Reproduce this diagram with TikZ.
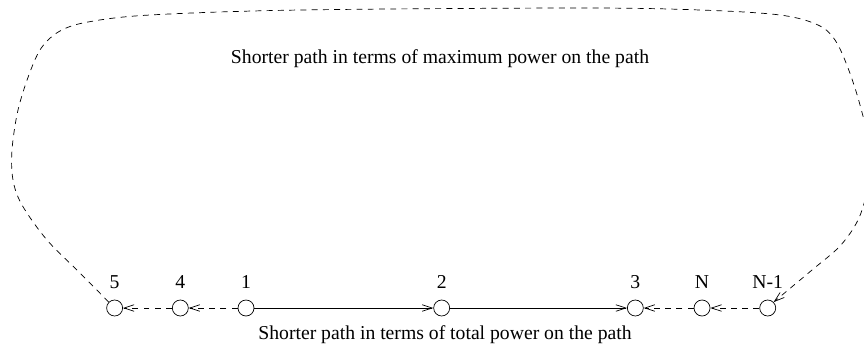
\documentclass[tikz,border=0pt]{standalone}
\usepackage{fontspec}
\setmainfont{Liberation Serif}
\usetikzlibrary{arrows.meta,positioning}

\begin{document}
\begin{tikzpicture}[
  x=0.02cm,y=-0.02cm,
  font=\fontsize{11.2}{13}\selectfont,
  >={Straight Barb[length=2mm,width=1.3mm]},
  node distance=9.8mm,
  station/.style={circle,draw,minimum size=3.2mm,inner sep=0pt},
  hop/.style={->,dash pattern=on 3.4pt off 3pt},
  direct/.style={->}
]
  \useasboundingbox (0,0) rectangle (864,345);

  \node[station,label={[label distance=1mm]above:1}] (n1) at (246,308) {};
  \node[station,left=of n1,label={[label distance=1mm]above:4}] (n4) {};
  \node[station,left=of n4,label={[label distance=1mm]above:5}] (n5) {};
  \node[station,right=35.8mm of n1,label={[label distance=1mm]above:2}] (n2) {};
  \node[station,right=35.4mm of n2,label={[label distance=1mm]above:3}] (n3) {};
  \node[station,right=10mm of n3,label={[label distance=1mm]above:N}] (nN) {};
  \node[station,right=of nN,label={[label distance=1mm]above:N-1}] (nM) {};

  \node (maxtext) at (440,59) {Shorter path in terms of maximum power on the path};
  \node (sumtext) at (445,335) {Shorter path in terms of total power on the path};

  % total power route
  \draw[direct] (n1) -- (n2);
  \draw[direct] (n2) -- (n3);
  \draw[hop] (n1) -- (n4);
  \draw[hop] (n4) -- (n5);
  \draw[hop] (nM) -- (nN);
  \draw[hop] (nN) -- (n3);

  % maximum power route, round the top
  \draw[hop] plot[smooth,tension=0.55] coordinates {
    (n5.north west) (80,273) (47,240) (22,205) (13,180) (12,150) (18,110)
    (30,72) (42,47) (60,31) (88,22) (150,15) (300,10) (580,8) (700,10)
    (780,15) (818,25) (835,40) (848,68) (860,105) (870,150) (867,190)
    (858,220) (840,246) (812,270) (nM.north east)};
\end{tikzpicture}
\end{document}
